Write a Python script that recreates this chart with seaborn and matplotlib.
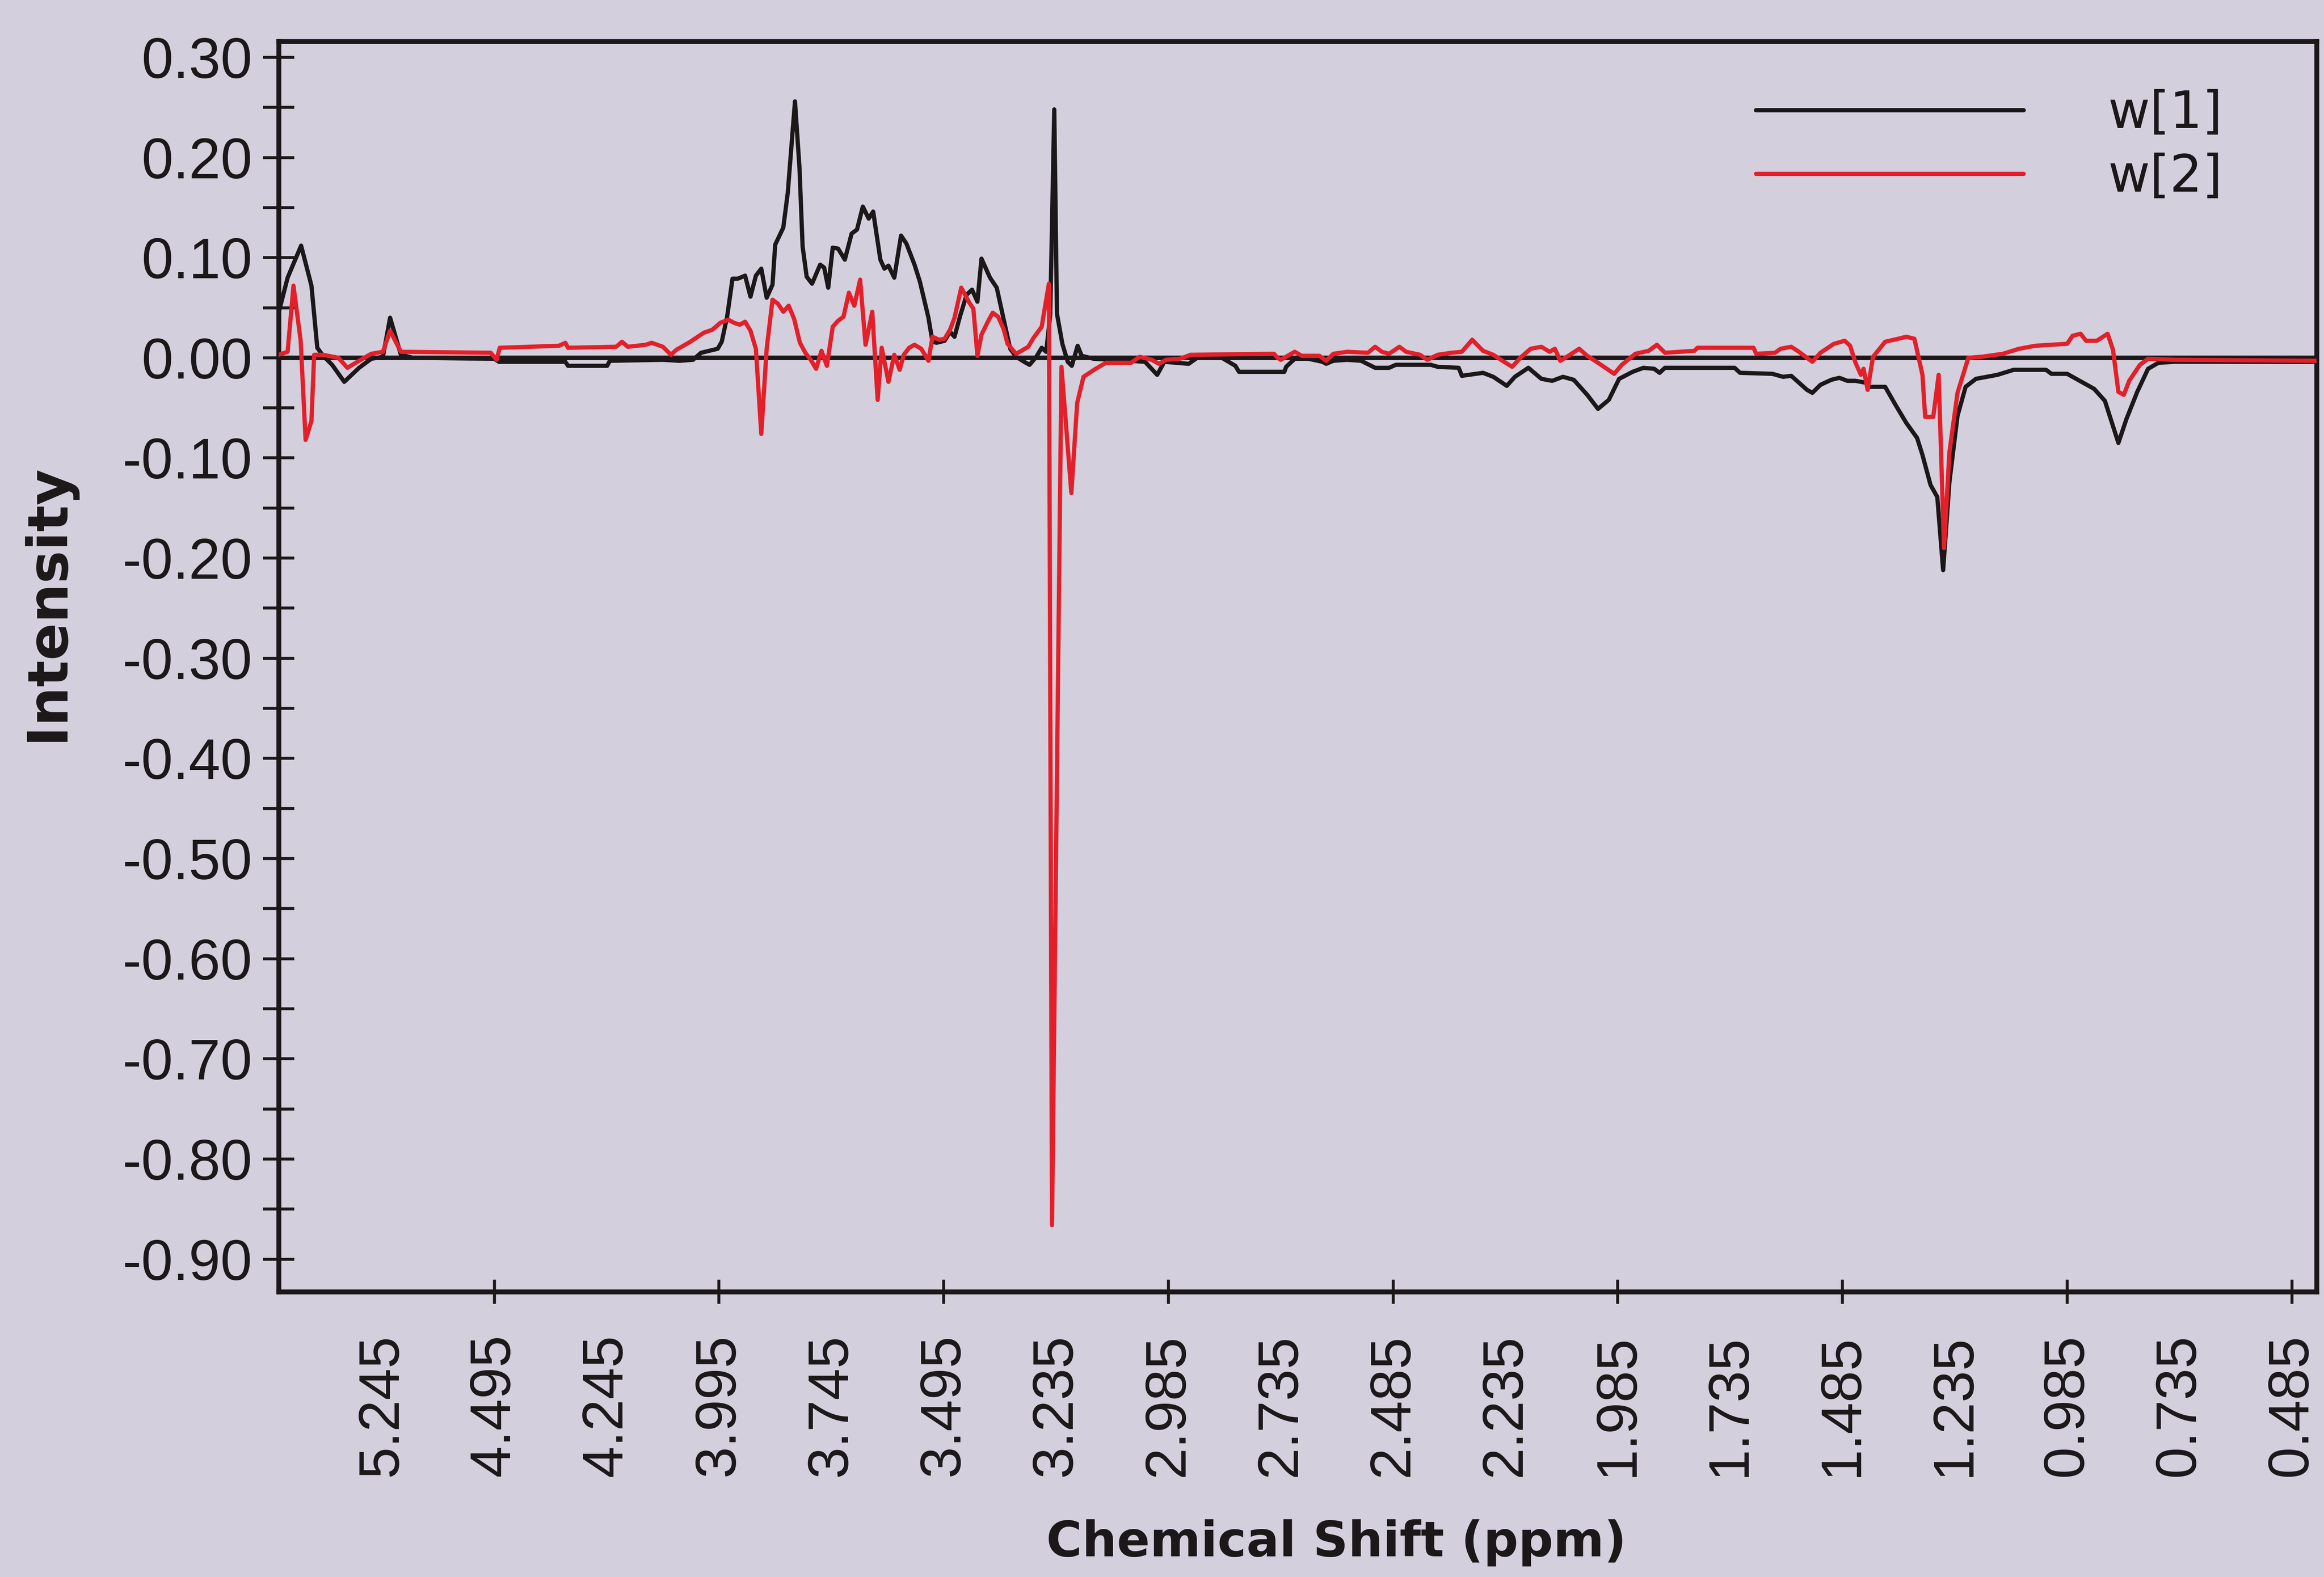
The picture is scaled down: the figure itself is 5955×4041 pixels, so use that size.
import numpy as np
import pandas as pd
import matplotlib
matplotlib.use("Agg")
import matplotlib.pyplot as plt
import seaborn as sns
from matplotlib.ticker import FixedLocator, FixedFormatter, MultipleLocator, FuncFormatter

# ---------------- data ----------------
x_tick_labels = ["5.245", "4.495", "4.245", "3.995", "3.745", "3.495", "3.235",
                 "2.985", "2.735", "2.485", "2.235", "1.985", "1.735", "1.485",
                 "1.235", "0.985", "0.735", "0.485"]

# variable index (bucket number) and loading values, w[1]
w1_x = [0, 2.0, 5.0, 7.3, 8.6, 9.9, 11.9, 14.6, 17.9, 20.6, 23.2, 24.8, 27.2, 29.9,
        48.0, 49.0, 63.8, 64.4, 73.1, 73.7, 85.5, 89.2, 92.2, 94.0, 97.7, 98.6, 99.8,
        101.0, 102.2, 103.8, 105.0, 106.2, 107.4, 108.6, 109.9, 110.5, 112.3, 113.3,
        114.9, 115.9, 116.6, 117.5, 118.7, 120.5, 121.4, 122.3, 123.3, 124.5, 126.0,
        127.5, 128.7, 130.0, 131.3, 132.3, 133.9, 134.8, 135.7, 137.0, 138.5, 139.7,
        141.5, 142.7, 144.6, 145.5, 146.4, 148.2, 149.4, 150.4, 151.6, 153.1, 154.3,
        155.5, 156.4, 157.4, 158.3, 159.8, 161.6, 162.8, 164.1, 165.9, 167.1, 168.6,
        169.8, 170.8, 171.7, 172.6, 173.2, 174.4, 175.6, 176.5, 177.8, 178.7, 181.4,
        189.4, 192.8, 195.5, 197.1, 202.5, 204.4, 209.9, 212.9, 213.7, 223.8, 224.2,
        226.1, 229.2, 232.3, 233.1, 234.7, 237.8, 240.9, 244.0, 247.1, 248.6, 256.4,
        257.9, 262.6, 263.3, 268.0, 270.3, 273.3, 275.1, 278.1, 281.0, 283.4, 285.8,
        288.2, 291.2, 293.6, 296.0, 298.3, 301.3, 303.7, 306.1, 307.3, 308.5, 324.0,
        325.2, 332.4, 334.8, 336.6, 340.1, 341.3, 343.1, 345.5, 347.3, 349.1, 350.9,
        353.3, 353.9, 357.5, 359.8, 362.2, 364.6, 365.8, 367.6, 369.1, 370.4, 371.8,
        373.6, 375.4, 377.7, 382.5, 386.1, 393.3, 394.5, 398.0, 400.4, 404.0, 406.4,
        409.4, 411.2, 413.6, 416.0, 418.3, 421.9, 453.5]
w1_y = [0.045, 0.080, 0.112, 0.072, 0.010, 0.002, -0.007, -0.024, -0.010, -0.001, 0.001,
        0.040, 0.003, 0.000, -0.001, -0.004, -0.004, -0.008, -0.008, -0.003, -0.002,
        -0.003, -0.002, 0.005, 0.009, 0.016, 0.041, 0.079, 0.079, 0.082, 0.061, 0.082,
        0.089, 0.060, 0.073, 0.113, 0.130, 0.165, 0.256, 0.190, 0.111, 0.081, 0.074,
        0.093, 0.090, 0.070, 0.110, 0.109, 0.098, 0.124, 0.128, 0.151, 0.139, 0.146,
        0.098, 0.089, 0.092, 0.080, 0.122, 0.114, 0.093, 0.076, 0.040, 0.016, 0.015,
        0.017, 0.026, 0.021, 0.041, 0.063, 0.068, 0.056, 0.099, 0.089, 0.080, 0.070,
        0.033, 0.009, 0.001, -0.004, -0.007, 0.001, 0.010, 0.006, 0.043, 0.248, 0.044,
        0.014, -0.004, -0.008, 0.012, 0.002, -0.001, -0.003, -0.004, -0.017, -0.004,
        -0.006, 0.000, 0.000, -0.008, -0.014, -0.014, -0.009, -0.001, -0.001, -0.004,
        -0.006, -0.003, -0.002, -0.003, -0.010, -0.010, -0.007, -0.007, -0.009, -0.010,
        -0.018, -0.015, -0.019, -0.028, -0.019, -0.010, -0.021, -0.023, -0.019, -0.022,
        -0.037, -0.051, -0.042, -0.021, -0.014, -0.010, -0.011, -0.015, -0.010, -0.010,
        -0.015, -0.016, -0.019, -0.018, -0.032, -0.035, -0.027, -0.022, -0.020, -0.023,
        -0.023, -0.025, -0.029, -0.029, -0.047, -0.065, -0.080, -0.097, -0.127, -0.139,
        -0.212, -0.124, -0.058, -0.029, -0.021, -0.017, -0.012, -0.012, -0.016, -0.016,
        -0.022, -0.031, -0.043, -0.085, -0.061, -0.034, -0.011, -0.005, -0.004, -0.004]

# w[2]
w2_x = [0, 2.0, 3.3, 4.9, 6.0, 7.3, 7.9, 9.9, 13.3, 15.3, 17.9, 20.6, 23.2, 24.8, 27.2,
        47.2, 48.5, 49.2, 62.4, 63.8, 64.4, 75.1, 76.4, 77.7, 81.7, 83.0, 85.5, 87.3,
        88.5, 91.6, 94.6, 96.5, 98.3, 100.1, 101.3, 102.6, 103.8, 105.0, 106.2, 107.4,
        108.6, 109.9, 111.1, 112.3, 113.5, 114.7, 116.0, 117.2, 118.4, 119.6, 120.8,
        122.0, 123.3, 124.5, 125.7, 126.9, 128.1, 129.4, 130.6, 132.1, 133.3, 134.2,
        135.7, 137.0, 138.2, 139.1, 140.3, 141.5, 143.0, 144.6, 145.5, 147.0, 148.2,
        149.4, 150.4, 151.9, 153.7, 154.6, 155.5, 156.4, 157.7, 158.9, 160.1, 161.3,
        162.2, 164.1, 165.3, 166.8, 168.0, 169.8, 171.4, 172.1, 174.2, 176.4, 177.7,
        179.1, 181.8, 184.1, 189.7, 191.6, 194.3, 195.9, 197.5, 200.6, 202.9, 221.5,
        222.3, 223.0, 226.1, 227.7, 231.6, 233.1, 234.7, 237.8, 242.4, 244.0, 245.5,
        247.1, 249.4, 250.9, 254.0, 255.6, 257.9, 261.0, 263.3, 265.6, 268.0, 270.3,
        272.7, 274.5, 276.3, 278.6, 281.0, 282.8, 284.0, 285.2, 287.0, 289.4, 291.2,
        293.6, 297.2, 298.9, 301.9, 304.9, 306.7, 308.5, 315.1, 315.7, 328.2, 328.8,
        333.0, 334.2, 336.6, 338.3, 339.5, 341.3, 343.1, 346.1, 348.5, 349.7, 350.9,
        352.1, 352.7, 353.6, 354.8, 357.5, 360.4, 362.2, 364.0, 364.6, 365.8, 366.4,
        368.2, 369.4, 370.6, 371.8, 373.6, 376.0, 378.9, 383.7, 387.3, 390.9, 398.0,
        399.2, 401.0, 402.2, 404.6, 407.0, 408.2, 409.4, 410.6, 411.8, 414.2, 416.0,
        421.9, 453.5]
w2_y = [0.003, 0.006, 0.072, 0.017, -0.082, -0.063, 0.003, 0.003, 0.000, -0.010, -0.003,
        0.004, 0.006, 0.027, 0.006, 0.005, -0.002, 0.010, 0.012, 0.015, 0.010, 0.011,
        0.016, 0.011, 0.013, 0.015, 0.011, 0.003, 0.008, 0.016, 0.025, 0.028, 0.035,
        0.038, 0.035, 0.033, 0.036, 0.027, 0.009, -0.076, 0.009, 0.058, 0.054, 0.046,
        0.052, 0.039, 0.015, 0.005, -0.002, -0.011, 0.007, -0.008, 0.031, 0.037, 0.041,
        0.065, 0.052, 0.078, 0.013, 0.046, -0.042, 0.010, -0.024, 0.003, -0.012, 0.003,
        0.010, 0.013, 0.009, -0.003, 0.021, 0.018, 0.019, 0.028, 0.040, 0.070, 0.055,
        0.049, 0.002, 0.023, 0.035, 0.045, 0.041, 0.029, 0.014, 0.004, 0.007, 0.011,
        0.020, 0.031, 0.074, -0.866, -0.009, -0.135, -0.045, -0.019, -0.011, -0.005,
        -0.005, 0.001, -0.002, -0.006, -0.002, -0.001, 0.003, 0.004, 0.000, -0.002,
        0.006, 0.002, 0.002, -0.003, 0.004, 0.006, 0.005, 0.011, 0.006, 0.004, 0.011,
        0.006, 0.003, -0.002, 0.003, 0.005, 0.006, 0.018, 0.007, 0.003, -0.004, -0.009,
        0.000, 0.009, 0.011, 0.006, 0.009, -0.003, 0.002, 0.009, 0.002, -0.005, -0.016,
        -0.007, 0.004, 0.007, 0.013, 0.005, 0.007, 0.010, 0.010, 0.004, 0.005, 0.009,
        0.011, 0.006, 0.002, -0.004, 0.005, 0.014, 0.017, 0.012, -0.005, -0.017, -0.011,
        -0.032, 0.001, 0.016, 0.019, 0.021, 0.019, 0.007, -0.017, -0.059, -0.059, -0.017,
        -0.190, -0.094, -0.035, 0.000, 0.001, 0.004, 0.009, 0.012, 0.014, 0.022, 0.024,
        0.017, 0.017, 0.024, 0.008, -0.034, -0.037, -0.023, -0.007, -0.001, -0.002,
        -0.003]

series_names = ["w[1]", "w[2]"]

# ---------------- style ----------------
sns.set_theme(style="ticks")
bg = "#d3cfdc"
ink = "#1c1719"
red = "#e3202a"
plt.rcParams["font.family"] = ["Liberation Sans", "DejaVu Sans"]
plt.rcParams["axes.unicode_minus"] = False
plt.rcParams["text.color"] = ink

fig = plt.figure(figsize=(5955 / 300, 4041 / 300), dpi=300, facecolor=bg)
ax = fig.add_axes([0.1199, 0.1809, 0.8769, 0.7929])
ax.set_facecolor(bg)

ax.axhline(0, color=ink, lw=2.8, zorder=1)
sns.lineplot(x=w1_x, y=w1_y, ax=ax, color=ink, lw=2.6, label=series_names[0],
             sort=False, estimator=None, zorder=2)
sns.lineplot(x=w2_x, y=w2_y, ax=ax, color=red, lw=2.6, label=series_names[1],
             sort=False, estimator=None, zorder=3)

ax.set_xlim(0, 453.5)
ax.set_ylim(-0.9325, 0.316)

# spines
for s in ax.spines.values():
    s.set_visible(True)
    s.set_linewidth(3.0)
    s.set_color(ink)

# y axis
ax.yaxis.set_major_locator(MultipleLocator(0.1))
ax.yaxis.set_minor_locator(MultipleLocator(0.05))
ax.yaxis.set_major_formatter(FuncFormatter(lambda v, p: f"{round(v, 2) + 0.0:.2f}"))
ax.tick_params(axis="y", which="both", direction="inout", length=19, width=1.8,
               color=ink, labelcolor=ink, pad=6.7, labelsize=35)

# x axis: labels at every position, tick marks at every second one
pos = [23 + 25 * k for k in range(len(x_tick_labels))]
ax.xaxis.remove_overlapping_locs = False
ax.xaxis.set_major_locator(FixedLocator(pos))
ax.xaxis.set_major_formatter(FixedFormatter(x_tick_labels))
ax.xaxis.set_minor_locator(FixedLocator(pos[1::2]))
ax.tick_params(axis="x", which="major", length=0, pad=26, labelsize=35,
               labelrotation=90, labelcolor=ink)
ax.tick_params(axis="x", which="minor", direction="inout", length=15, width=1.8,
               color=ink)

ax.set_ylabel("Intensity", fontsize=34, fontweight="bold", family="DejaVu Sans",
              color=ink)
ax.yaxis.set_label_coords(-0.100, 0.551)
ax.set_xlabel("Chemical Shift (ppm)", fontsize=30, fontweight="bold",
              family="DejaVu Sans", color=ink)
ax.xaxis.set_label_coords(0.519, -0.182)

handles, labels = ax.get_legend_handles_labels()
leg = ax.legend(handles, labels, loc="upper left", bbox_to_anchor=(0.7248, 0.962),
                frameon=False, handlelength=5.23, handletextpad=1.65,
                labelspacing=0.28, borderpad=0, borderaxespad=0,
                prop={"family": "DejaVu Sans", "size": 31.5})
for t in leg.get_texts():
    t.set_color(ink)

fig.savefig("out.png", dpi=300, facecolor=bg)
